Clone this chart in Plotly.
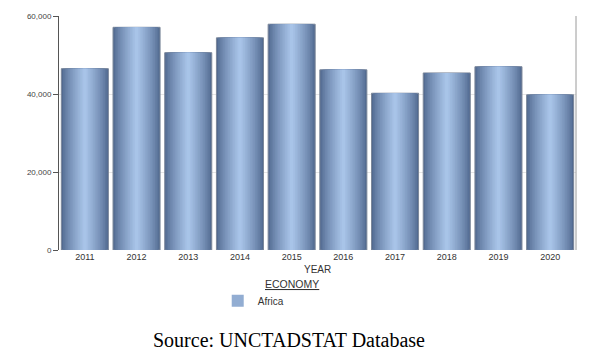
import plotly.graph_objects as go

years = ["2011", "2012", "2013", "2014", "2015", "2016", "2017", "2018", "2019", "2020"]
africa = [46500, 57100, 50600, 54400, 57900, 46200, 40200, 45400, 47000, 39800]
y_ticks = [0, 20000, 40000, 60000]

dark = (82, 106, 145)
light = (168, 196, 232)

def mix(t):
    return "rgb(%d,%d,%d)" % tuple(round(d + (l - d) * t) for d, l in zip(dark, light))

fig = go.Figure()
full_w = 0.91
n_layers = 14
legend_layer = 9
for i in range(n_layers):
    t = i / (n_layers - 1)
    w = full_w * (1 - t * 0.93)
    fig.add_trace(go.Bar(
        x=years, y=africa, width=w,
        marker=dict(color=mix(t ** 0.8),
                    line=dict(color="#7b8799", width=1 if i == 0 else 0)),
        name="Africa", showlegend=(i == legend_layer),
        hoverinfo="skip" if i else None,
    ))

fig.update_layout(
    width=590, height=356,
    margin=dict(l=59, r=14, t=16, b=106),
    paper_bgcolor="white", plot_bgcolor="white",
    barmode="overlay",
    font=dict(family="Liberation Sans, Arial", size=8, color="#333"),
    showlegend=True,
    legend=dict(orientation="h", x=0.307, y=-0.155, xanchor="left", yanchor="top",
                font=dict(size=10, color="#333"), itemwidth=30, bgcolor="rgba(0,0,0,0)"),
    xaxis=dict(showline=False, ticks="", showgrid=False, tickfont=dict(size=9),
               ticklen=0, tickangle=0),
    yaxis=dict(range=[0, 60000], tickvals=y_ticks, tickformat=",", showgrid=True,
               gridcolor="#e6e6e6", gridwidth=1, showline=True, linecolor="#555",
               linewidth=1, ticks="outside", ticklen=5, tickcolor="#555",
               tickfont=dict(size=8, color="#444"), zeroline=False),
    shapes=[
        dict(type="line", xref="paper", yref="paper", x0=1, x1=1, y0=0, y1=1,
             line=dict(color="#9a9a9a", width=1)),
    ],
    annotations=[
        dict(text="YEAR", xref="paper", yref="paper", x=0.50, y=-0.085,
             xanchor="center", yanchor="middle",
             showarrow=False, font=dict(size=10, color="#333")),
        dict(text="<u>ECONOMY</u>", xref="paper", yref="paper", x=0.451, y=-0.145,
             xanchor="center", yanchor="middle",
             showarrow=False, font=dict(size=10.5, color="#333")),
        dict(text="Source: UNCTADSTAT Database", xref="paper", yref="paper",
             x=0.445, y=-0.385, xanchor="center", yanchor="middle", showarrow=False,
             font=dict(family="Liberation Serif, Times New Roman", size=20, color="black")),
    ],
)

fig.write_html("out.html", config={"displayModeBar": False},
               post_script="document.body.style.margin='0';")
